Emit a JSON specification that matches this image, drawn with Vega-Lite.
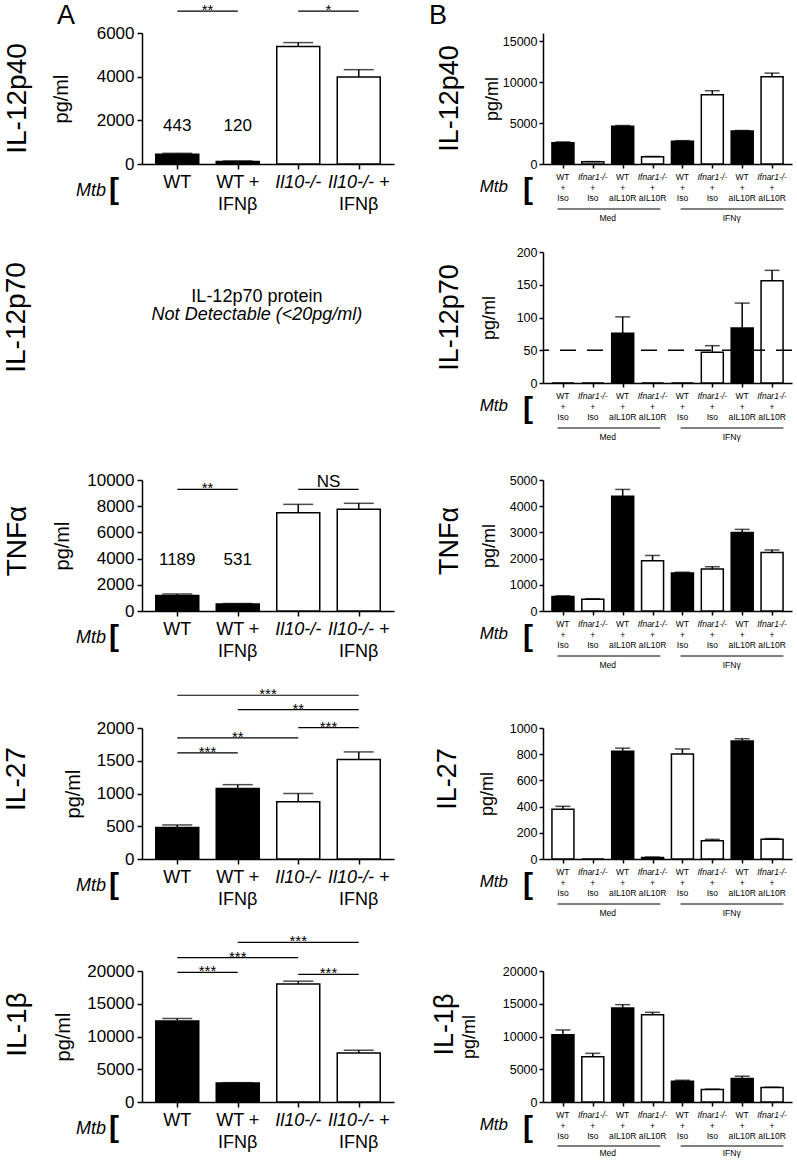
{
"$schema": "https://vega.github.io/schema/vega-lite/v6.json",
"background": "white",
"padding": {"left": 3, "top": 2, "right": 0, "bottom": 0},
"columns": 2,
"spacing": {"row": 88, "column": 149},
"bounds": "flush",
"align": "each",
"config": {
  "font": "Liberation Sans",
  "view": {"stroke": null},
  "axis": {"grid": false, "domainColor": "black", "domainWidth": 1.5, "tickColor": "black", "tickWidth": 1.5, "labelColor": "black", "titleColor": "black", "titleFontWeight": "normal", "labelOverlap": false},
  "title": {"orient": "left", "anchor": "middle", "frame": "group", "fontWeight": "normal", "color": "black"},
  "text": {"color": "black", "baseline": "alphabetic", "align": "center"}
},
"datasets": {
  "bars": [
    {"panel": "Ap40", "x": 1, "value": 443, "hi": 490, "fill": "solid"},
    {"panel": "Ap40", "x": 2, "value": 120, "hi": 140, "fill": "solid"},
    {"panel": "Ap40", "x": 3, "value": 5380, "hi": 5560, "fill": "open"},
    {"panel": "Ap40", "x": 4, "value": 3990, "hi": 4320, "fill": "open"},
    {"panel": "Atnf", "x": 1, "value": 1189, "hi": 1300, "fill": "solid"},
    {"panel": "Atnf", "x": 2, "value": 531, "hi": 570, "fill": "solid"},
    {"panel": "Atnf", "x": 3, "value": 7500, "hi": 8140, "fill": "open"},
    {"panel": "Atnf", "x": 4, "value": 7760, "hi": 8220, "fill": "open"},
    {"panel": "Ail27", "x": 1, "value": 480, "hi": 520, "fill": "solid"},
    {"panel": "Ail27", "x": 2, "value": 1075, "hi": 1135, "fill": "solid"},
    {"panel": "Ail27", "x": 3, "value": 875, "hi": 1000, "fill": "open"},
    {"panel": "Ail27", "x": 4, "value": 1520, "hi": 1635, "fill": "open"},
    {"panel": "Ail1b", "x": 1, "value": 12350, "hi": 12750, "fill": "solid"},
    {"panel": "Ail1b", "x": 2, "value": 2900, "hi": 2950, "fill": "solid"},
    {"panel": "Ail1b", "x": 3, "value": 18000, "hi": 18450, "fill": "open"},
    {"panel": "Ail1b", "x": 4, "value": 7500, "hi": 7900, "fill": "open"},
    {"panel": "Bp40", "x": 1, "value": 2600, "hi": 2700, "fill": "solid"},
    {"panel": "Bp40", "x": 2, "value": 270, "hi": 300, "fill": "open"},
    {"panel": "Bp40", "x": 3, "value": 4620, "hi": 4700, "fill": "solid"},
    {"panel": "Bp40", "x": 4, "value": 890, "hi": 920, "fill": "open"},
    {"panel": "Bp40", "x": 5, "value": 2780, "hi": 2850, "fill": "solid"},
    {"panel": "Bp40", "x": 6, "value": 8460, "hi": 8950, "fill": "open"},
    {"panel": "Bp40", "x": 7, "value": 4040, "hi": 4090, "fill": "solid"},
    {"panel": "Bp40", "x": 8, "value": 10650, "hi": 11100, "fill": "open"},
    {"panel": "Bp70", "x": 1, "value": 0, "hi": 0, "fill": "solid"},
    {"panel": "Bp70", "x": 2, "value": 0, "hi": 0, "fill": "open"},
    {"panel": "Bp70", "x": 3, "value": 76, "hi": 101, "fill": "solid"},
    {"panel": "Bp70", "x": 4, "value": 0, "hi": 0, "fill": "open"},
    {"panel": "Bp70", "x": 5, "value": 0, "hi": 0, "fill": "solid"},
    {"panel": "Bp70", "x": 6, "value": 47, "hi": 57, "fill": "open"},
    {"panel": "Bp70", "x": 7, "value": 84, "hi": 122, "fill": "solid"},
    {"panel": "Bp70", "x": 8, "value": 156, "hi": 172, "fill": "open"},
    {"panel": "Btnf", "x": 1, "value": 550, "hi": 580, "fill": "solid"},
    {"panel": "Btnf", "x": 2, "value": 450, "hi": 470, "fill": "open"},
    {"panel": "Btnf", "x": 3, "value": 4380, "hi": 4640, "fill": "solid"},
    {"panel": "Btnf", "x": 4, "value": 1920, "hi": 2120, "fill": "open"},
    {"panel": "Btnf", "x": 5, "value": 1450, "hi": 1480, "fill": "solid"},
    {"panel": "Btnf", "x": 6, "value": 1600, "hi": 1690, "fill": "open"},
    {"panel": "Btnf", "x": 7, "value": 3000, "hi": 3115, "fill": "solid"},
    {"panel": "Btnf", "x": 8, "value": 2230, "hi": 2330, "fill": "open"},
    {"panel": "Bil27", "x": 1, "value": 380, "hi": 402, "fill": "open"},
    {"panel": "Bil27", "x": 2, "value": 0, "hi": 0, "fill": "open"},
    {"panel": "Bil27", "x": 3, "value": 823, "hi": 846, "fill": "solid"},
    {"panel": "Bil27", "x": 4, "value": 12, "hi": 15, "fill": "open"},
    {"panel": "Bil27", "x": 5, "value": 802, "hi": 840, "fill": "open"},
    {"panel": "Bil27", "x": 6, "value": 140, "hi": 150, "fill": "open"},
    {"panel": "Bil27", "x": 7, "value": 900, "hi": 918, "fill": "solid"},
    {"panel": "Bil27", "x": 8, "value": 150, "hi": 156, "fill": "open"},
    {"panel": "Bil1b", "x": 1, "value": 10250, "hi": 11000, "fill": "solid"},
    {"panel": "Bil1b", "x": 2, "value": 6920, "hi": 7430, "fill": "open"},
    {"panel": "Bil1b", "x": 3, "value": 14350, "hi": 14860, "fill": "solid"},
    {"panel": "Bil1b", "x": 4, "value": 13320, "hi": 13690, "fill": "open"},
    {"panel": "Bil1b", "x": 5, "value": 3170, "hi": 3320, "fill": "solid"},
    {"panel": "Bil1b", "x": 6, "value": 1890, "hi": 1970, "fill": "open"},
    {"panel": "Bil1b", "x": 7, "value": 3590, "hi": 3940, "fill": "solid"},
    {"panel": "Bil1b", "x": 8, "value": 2200, "hi": 2260, "fill": "open"}
  ],
  "sig": [
    {"panel": "Ap40", "x1": 1, "x2": 2, "xm": 1.5, "y": 7000, "label": "**"},
    {"panel": "Ap40", "x1": 3, "x2": 4, "xm": 3.5, "y": 7000, "label": "*"},
    {"panel": "Atnf", "x1": 1, "x2": 2, "xm": 1.5, "y": 9290, "label": "**"},
    {"panel": "Atnf", "x1": 3, "x2": 4, "xm": 3.5, "y": 9290, "label": "NS"},
    {"panel": "Ail27", "x1": 1, "x2": 4, "xm": 2.5, "y": 2500, "label": "***"},
    {"panel": "Ail27", "x1": 2, "x2": 4, "xm": 3, "y": 2280, "label": "**"},
    {"panel": "Ail27", "x1": 3, "x2": 4, "xm": 3.5, "y": 2005, "label": "***"},
    {"panel": "Ail27", "x1": 1, "x2": 3, "xm": 2, "y": 1850, "label": "**"},
    {"panel": "Ail27", "x1": 1, "x2": 2, "xm": 1.5, "y": 1620, "label": "***"},
    {"panel": "Ail1b", "x1": 2, "x2": 4, "xm": 3, "y": 24380, "label": "***"},
    {"panel": "Ail1b", "x1": 1, "x2": 3, "xm": 2, "y": 22030, "label": "***"},
    {"panel": "Ail1b", "x1": 1, "x2": 2, "xm": 1.5, "y": 19800, "label": "***"},
    {"panel": "Ail1b", "x1": 3, "x2": 4, "xm": 3.5, "y": 19500, "label": "***"}
  ],
  "vals": [
    {"panel": "Ap40", "x": 1, "y": 1500, "label": "443"},
    {"panel": "Ap40", "x": 2, "y": 1500, "label": "120"},
    {"panel": "Atnf", "x": 1, "y": 3500, "label": "1189"},
    {"panel": "Atnf", "x": 2, "y": 3500, "label": "531"}
  ],
  "lx": [
    {"x": 1, "l1": "WT", "l2": "", "geno": "WT"},
    {"x": 2, "l1": "WT +", "l2": "IFNβ", "geno": "WT"},
    {"x": 3, "l1": "Il10-/-", "l2": "", "geno": "Il10-/-"},
    {"x": 4, "l1": "Il10-/- +", "l2": "IFNβ", "geno": "Il10-/-"}
  ],
  "rx": [
    {"x": 1, "l1": "WT", "l3": "Iso", "geno": "WT"},
    {"x": 2, "l1": "Ifnar1-/-", "l3": "Iso", "geno": "Ifnar1-/-"},
    {"x": 3, "l1": "WT", "l3": "aIL10R", "geno": "WT"},
    {"x": 4, "l1": "Ifnar1-/-", "l3": "aIL10R", "geno": "Ifnar1-/-"},
    {"x": 5, "l1": "WT", "l3": "Iso", "geno": "WT"},
    {"x": 6, "l1": "Ifnar1-/-", "l3": "Iso", "geno": "Ifnar1-/-"},
    {"x": 7, "l1": "WT", "l3": "aIL10R", "geno": "WT"},
    {"x": 8, "l1": "Ifnar1-/-", "l3": "aIL10R", "geno": "Ifnar1-/-"}
  ],
  "grp": [
    {"x1": 0.82, "x2": 4.26, "xm": 2.5, "label": "Med"},
    {"x1": 4.94, "x2": 8.38, "xm": 6.65, "label": "IFNγ"}
  ]
},
"concat": [
  {
    "width": 252, "height": 131,
    "title": {"text": "IL-12p40", "fontSize": 28, "offset": 19},
    "layer": [
      {"data": {"name": "bars"}, "transform": [{"filter": "datum.panel === 'Ap40'"}],
       "mark": {"type": "bar", "width": 43, "stroke": "black", "strokeWidth": 1.5},
       "encoding": {
         "x": {"field": "x", "type": "quantitative", "scale": {"domain": [0.5, 4.5], "nice": false, "zero": false}, "axis": {"values": [1, 2, 3, 4], "tickCount": 20, "labels": false, "tickSize": 5, "title": null}},
         "y": {"field": "value", "type": "quantitative", "scale": {"domain": [0, 6000]}, "axis": {"values": [0, 2000, 4000, 6000], "tickCount": 20, "labelOverlap": false, "format": "d", "title": "pg/ml", "titleFontSize": 20, "labelFontSize": 17, "tickSize": 5, "labelPadding": 3, "titlePadding": 25}},
         "fill": {"field": "fill", "type": "nominal", "scale": {"domain": ["solid", "open"], "range": ["black", "white"]}, "legend": null}
       }},
      {"data": {"name": "bars"}, "transform": [{"filter": "datum.panel === 'Ap40'"}],
       "mark": {"type": "rule", "color": "black", "strokeWidth": 1.5},
       "encoding": {"x": {"field": "x", "type": "quantitative"}, "y": {"field": "value", "type": "quantitative"}, "y2": {"field": "hi"}}},
      {"data": {"name": "bars"}, "transform": [{"filter": "datum.panel === 'Ap40'"}],
       "mark": {"type": "tick", "orient": "horizontal", "size": 30, "thickness": 1.5, "color": "black"},
       "encoding": {"x": {"field": "x", "type": "quantitative"}, "y": {"field": "hi", "type": "quantitative"}}},
      {"data": {"name": "sig"}, "transform": [{"filter": "datum.panel === 'Ap40'"}],
       "mark": {"type": "rule", "color": "black", "strokeWidth": 1.2},
       "encoding": {"x": {"field": "x1", "type": "quantitative"}, "x2": {"field": "x2"}, "y": {"field": "y", "type": "quantitative"}}},
      {"data": {"name": "sig"}, "transform": [{"filter": "datum.panel === 'Ap40' && datum.label !== 'NS'"}],
       "mark": {"type": "text", "fontSize": 15, "dy": 4},
       "encoding": {"x": {"field": "xm", "type": "quantitative"}, "y": {"field": "y", "type": "quantitative"}, "text": {"field": "label"}}},
      {"data": {"name": "vals"}, "transform": [{"filter": "datum.panel === 'Ap40'"}],
       "mark": {"type": "text", "fontSize": 17},
       "encoding": {"x": {"field": "x", "type": "quantitative"}, "y": {"field": "y", "type": "quantitative"}, "text": {"field": "label"}}},
      {"data": {"name": "lx"}, "transform": [{"filter": "datum.geno === 'WT'"}],
       "mark": {"type": "text", "fontSize": 18, "dy": 24},
       "encoding": {"x": {"field": "x", "type": "quantitative"}, "y": {"datum": 0}, "text": {"field": "l1"}}},
      {"data": {"name": "lx"}, "transform": [{"filter": "datum.geno !== 'WT'"}],
       "mark": {"type": "text", "fontSize": 18, "fontStyle": "italic", "dy": 24},
       "encoding": {"x": {"field": "x", "type": "quantitative"}, "y": {"datum": 0}, "text": {"field": "l1"}}},
      {"data": {"name": "lx"},
       "mark": {"type": "text", "fontSize": 18, "dy": 46},
       "encoding": {"x": {"field": "x", "type": "quantitative"}, "y": {"datum": 0}, "text": {"field": "l2"}}},
      {"data": {"values": [{"t": "Mtb"}]},
       "mark": {"type": "text", "fontSize": 18, "fontStyle": "italic", "align": "right", "dx": -41, "dy": 32},
       "encoding": {"x": {"datum": 0.5}, "y": {"datum": 0}, "text": {"field": "t"}}},
      {"data": {"values": [{"t": "["}]},
       "mark": {"type": "text", "fontSize": 30, "fontWeight": "bold", "dx": -33, "dy": 35},
       "encoding": {"x": {"datum": 0.5}, "y": {"datum": 0}, "text": {"field": "t"}}},
      {"data": {"values": [{"t": "A"}]},
       "mark": {"type": "text", "fontSize": 27, "align": "left", "dx": -90, "dy": -9},
       "encoding": {"x": {"datum": 0.5}, "y": {"datum": 6000}, "text": {"field": "t"}}},
      {"data": {"values": [{"t": "B"}]},
       "mark": {"type": "text", "fontSize": 27, "align": "left", "dx": 40, "dy": -9},
       "encoding": {"x": {"datum": 4.5}, "y": {"datum": 6000}, "text": {"field": "t"}}}
    ]
  },
  {
    "width": 249, "height": 131,
    "title": {"text": "IL-12p40", "fontSize": 27, "offset": 16},
    "layer": [
      {"data": {"name": "bars"}, "transform": [{"filter": "datum.panel === 'Bp40'"}],
       "mark": {"type": "bar", "width": 22, "stroke": "black", "strokeWidth": 1.5},
       "encoding": {
         "x": {"field": "x", "type": "quantitative", "scale": {"domain": [0.5, 8.5], "nice": false, "zero": false}, "axis": {"values": [1, 2, 3, 4, 5, 6, 7, 8], "tickCount": 20, "labels": false, "tickSize": 4, "title": null}},
         "y": {"field": "value", "type": "quantitative", "scale": {"domain": [0, 15000]}, "axis": {"values": [0, 5000, 10000, 15000], "tickCount": 20, "labelOverlap": false, "format": "d", "title": "pg/ml", "titleFontSize": 18, "labelFontSize": 12.5, "tickSize": 4, "labelPadding": 2, "titlePadding": 1}},
         "fill": {"field": "fill", "type": "nominal", "scale": {"domain": ["solid", "open"], "range": ["black", "white"]}, "legend": null}
       }},
      {"data": {"name": "bars"}, "transform": [{"filter": "datum.panel === 'Bp40'"}],
       "mark": {"type": "rule", "color": "black", "strokeWidth": 1.5},
       "encoding": {"x": {"field": "x", "type": "quantitative"}, "y": {"field": "value", "type": "quantitative"}, "y2": {"field": "hi"}}},
      {"data": {"name": "bars"}, "transform": [{"filter": "datum.panel === 'Bp40'"}],
       "mark": {"type": "tick", "orient": "horizontal", "size": 15, "thickness": 1.5, "color": "black"},
       "encoding": {"x": {"field": "x", "type": "quantitative"}, "y": {"field": "hi", "type": "quantitative"}}},
      {"data": {"name": "rx"}, "transform": [{"filter": "datum.geno === 'WT'"}],
       "mark": {"type": "text", "fontSize": 8.5, "dy": 16},
       "encoding": {"x": {"field": "x", "type": "quantitative"}, "y": {"datum": 0}, "text": {"field": "l1"}}},
      {"data": {"name": "rx"}, "transform": [{"filter": "datum.geno !== 'WT'"}],
       "mark": {"type": "text", "fontSize": 8.5, "fontStyle": "italic", "dy": 16},
       "encoding": {"x": {"field": "x", "type": "quantitative"}, "y": {"datum": 0}, "text": {"field": "l1"}}},
      {"data": {"name": "rx"},
       "mark": {"type": "text", "fontSize": 8.5, "dy": 27},
       "encoding": {"x": {"field": "x", "type": "quantitative"}, "y": {"datum": 0}, "text": {"value": "+"}}},
      {"data": {"name": "rx"},
       "mark": {"type": "text", "fontSize": 8.5, "dy": 37},
       "encoding": {"x": {"field": "x", "type": "quantitative"}, "y": {"datum": 0}, "text": {"field": "l3"}}},
      {"data": {"name": "grp"},
       "mark": {"type": "rule", "color": "black", "strokeWidth": 1, "yOffset": 45},
       "encoding": {"x": {"field": "x1", "type": "quantitative"}, "x2": {"field": "x2"}, "y": {"datum": 0}}},
      {"data": {"name": "grp"},
       "mark": {"type": "text", "fontSize": 8.5, "dy": 57},
       "encoding": {"x": {"field": "xm", "type": "quantitative"}, "y": {"datum": 0}, "text": {"field": "label"}}},
      {"data": {"values": [{"t": "Mtb"}]},
       "mark": {"type": "text", "fontSize": 17, "fontStyle": "italic", "align": "right", "dx": -40, "dy": 28},
       "encoding": {"x": {"datum": 0.5}, "y": {"datum": 0}, "text": {"field": "t"}}},
      {"data": {"values": [{"t": "["}]},
       "mark": {"type": "text", "fontSize": 30, "fontWeight": "bold", "dx": -20, "dy": 35},
       "encoding": {"x": {"datum": 0.5}, "y": {"datum": 0}, "text": {"field": "t"}}}
    ]
  },
  {
    "width": 252, "height": 131,
    "title": {"text": "IL-12p70", "fontSize": 28, "offset": 111},
    "data": {"values": [{"t1": "IL-12p70 protein", "t2": "Not Detectable (<20pg/ml)"}]},
    "layer": [
      {"mark": {"type": "text", "fontSize": 18},
       "encoding": {"x": {"datum": 0.456, "type": "quantitative", "scale": {"domain": [0, 1]}, "axis": null}, "y": {"datum": 0.618, "type": "quantitative", "scale": {"domain": [0, 1]}, "axis": null}, "text": {"field": "t1"}}},
      {"mark": {"type": "text", "fontSize": 18, "fontStyle": "italic"},
       "encoding": {"x": {"datum": 0.456, "type": "quantitative", "axis": null}, "y": {"datum": 0.481, "type": "quantitative", "axis": null}, "text": {"field": "t2"}}}
    ]
  },
  {
    "width": 249, "height": 131,
    "title": {"text": "IL-12p70", "fontSize": 27, "offset": 16},
    "layer": [
      {"data": {"name": "bars"}, "transform": [{"filter": "datum.panel === 'Bp70'"}],
       "mark": {"type": "bar", "width": 22, "stroke": "black", "strokeWidth": 1.5},
       "encoding": {
         "x": {"field": "x", "type": "quantitative", "scale": {"domain": [0.5, 8.5], "nice": false, "zero": false}, "axis": {"values": [1, 2, 3, 4, 5, 6, 7, 8], "tickCount": 20, "labels": false, "tickSize": 4, "title": null}},
         "y": {"field": "value", "type": "quantitative", "scale": {"domain": [0, 200]}, "axis": {"values": [0, 50, 100, 150, 200], "tickCount": 20, "labelOverlap": false, "format": "d", "title": "pg/ml", "titleFontSize": 18, "labelFontSize": 12.5, "tickSize": 4, "labelPadding": 2, "titlePadding": 18}},
         "fill": {"field": "fill", "type": "nominal", "scale": {"domain": ["solid", "open"], "range": ["black", "white"]}, "legend": null}
       }},
      {"data": {"name": "bars"}, "transform": [{"filter": "datum.panel === 'Bp70' && datum.value > 0"}],
       "mark": {"type": "rule", "color": "black", "strokeWidth": 1.5},
       "encoding": {"x": {"field": "x", "type": "quantitative"}, "y": {"field": "value", "type": "quantitative"}, "y2": {"field": "hi"}}},
      {"data": {"name": "bars"}, "transform": [{"filter": "datum.panel === 'Bp70' && datum.value > 0"}],
       "mark": {"type": "tick", "orient": "horizontal", "size": 15, "thickness": 1.5, "color": "black"},
       "encoding": {"x": {"field": "x", "type": "quantitative"}, "y": {"field": "hi", "type": "quantitative"}}},
      {"data": {"values": [{"lod": 50}]},
       "mark": {"type": "rule", "color": "black", "strokeWidth": 1.5, "strokeDash": [16, 11]},
       "encoding": {"y": {"field": "lod", "type": "quantitative"}}},
      {"data": {"name": "rx"}, "transform": [{"filter": "datum.geno === 'WT'"}],
       "mark": {"type": "text", "fontSize": 8.5, "dy": 16},
       "encoding": {"x": {"field": "x", "type": "quantitative"}, "y": {"datum": 0}, "text": {"field": "l1"}}},
      {"data": {"name": "rx"}, "transform": [{"filter": "datum.geno !== 'WT'"}],
       "mark": {"type": "text", "fontSize": 8.5, "fontStyle": "italic", "dy": 16},
       "encoding": {"x": {"field": "x", "type": "quantitative"}, "y": {"datum": 0}, "text": {"field": "l1"}}},
      {"data": {"name": "rx"},
       "mark": {"type": "text", "fontSize": 8.5, "dy": 27},
       "encoding": {"x": {"field": "x", "type": "quantitative"}, "y": {"datum": 0}, "text": {"value": "+"}}},
      {"data": {"name": "rx"},
       "mark": {"type": "text", "fontSize": 8.5, "dy": 37},
       "encoding": {"x": {"field": "x", "type": "quantitative"}, "y": {"datum": 0}, "text": {"field": "l3"}}},
      {"data": {"name": "grp"},
       "mark": {"type": "rule", "color": "black", "strokeWidth": 1, "yOffset": 45},
       "encoding": {"x": {"field": "x1", "type": "quantitative"}, "x2": {"field": "x2"}, "y": {"datum": 0}}},
      {"data": {"name": "grp"},
       "mark": {"type": "text", "fontSize": 8.5, "dy": 57},
       "encoding": {"x": {"field": "xm", "type": "quantitative"}, "y": {"datum": 0}, "text": {"field": "label"}}},
      {"data": {"values": [{"t": "Mtb"}]},
       "mark": {"type": "text", "fontSize": 17, "fontStyle": "italic", "align": "right", "dx": -40, "dy": 28},
       "encoding": {"x": {"datum": 0.5}, "y": {"datum": 0}, "text": {"field": "t"}}},
      {"data": {"values": [{"t": "["}]},
       "mark": {"type": "text", "fontSize": 30, "fontWeight": "bold", "dx": -20, "dy": 35},
       "encoding": {"x": {"datum": 0.5}, "y": {"datum": 0}, "text": {"field": "t"}}}
    ]
  },
  {
    "width": 252, "height": 140,
    "title": {"text": "TNFα", "fontSize": 28, "offset": 21},
    "layer": [
      {"data": {"name": "bars"}, "transform": [{"filter": "datum.panel === 'Atnf'"}],
       "mark": {"type": "bar", "width": 43, "stroke": "black", "strokeWidth": 1.5},
       "encoding": {
         "x": {"field": "x", "type": "quantitative", "scale": {"domain": [0.5, 4.5], "nice": false, "zero": false}, "axis": {"values": [1, 2, 3, 4], "tickCount": 20, "labels": false, "tickSize": 5, "title": null}},
         "y": {"field": "value", "type": "quantitative", "scale": {"domain": [0, 10000], "range": [140, 9]}, "axis": {"values": [0, 2000, 4000, 6000, 8000, 10000], "tickCount": 20, "labelOverlap": false, "format": "d", "title": "pg/ml", "titleFontSize": 20, "labelFontSize": 17, "tickSize": 5, "labelPadding": 3, "titlePadding": 14}},
         "fill": {"field": "fill", "type": "nominal", "scale": {"domain": ["solid", "open"], "range": ["black", "white"]}, "legend": null}
       }},
      {"data": {"name": "bars"}, "transform": [{"filter": "datum.panel === 'Atnf'"}],
       "mark": {"type": "rule", "color": "black", "strokeWidth": 1.5},
       "encoding": {"x": {"field": "x", "type": "quantitative"}, "y": {"field": "value", "type": "quantitative"}, "y2": {"field": "hi"}}},
      {"data": {"name": "bars"}, "transform": [{"filter": "datum.panel === 'Atnf'"}],
       "mark": {"type": "tick", "orient": "horizontal", "size": 30, "thickness": 1.5, "color": "black"},
       "encoding": {"x": {"field": "x", "type": "quantitative"}, "y": {"field": "hi", "type": "quantitative"}}},
      {"data": {"name": "sig"}, "transform": [{"filter": "datum.panel === 'Atnf'"}],
       "mark": {"type": "rule", "color": "black", "strokeWidth": 1.2},
       "encoding": {"x": {"field": "x1", "type": "quantitative"}, "x2": {"field": "x2"}, "y": {"field": "y", "type": "quantitative"}}},
      {"data": {"name": "sig"}, "transform": [{"filter": "datum.panel === 'Atnf' && datum.label !== 'NS'"}],
       "mark": {"type": "text", "fontSize": 15, "dy": 4},
       "encoding": {"x": {"field": "xm", "type": "quantitative"}, "y": {"field": "y", "type": "quantitative"}, "text": {"field": "label"}}},
      {"data": {"name": "sig"}, "transform": [{"filter": "datum.panel === 'Atnf' && datum.label === 'NS'"}],
       "mark": {"type": "text", "fontSize": 17, "dy": -2},
       "encoding": {"x": {"field": "xm", "type": "quantitative"}, "y": {"field": "y", "type": "quantitative"}, "text": {"field": "label"}}},
      {"data": {"name": "vals"}, "transform": [{"filter": "datum.panel === 'Atnf'"}],
       "mark": {"type": "text", "fontSize": 17},
       "encoding": {"x": {"field": "x", "type": "quantitative"}, "y": {"field": "y", "type": "quantitative"}, "text": {"field": "label"}}},
      {"data": {"name": "lx"}, "transform": [{"filter": "datum.geno === 'WT'"}],
       "mark": {"type": "text", "fontSize": 18, "dy": 24},
       "encoding": {"x": {"field": "x", "type": "quantitative"}, "y": {"datum": 0}, "text": {"field": "l1"}}},
      {"data": {"name": "lx"}, "transform": [{"filter": "datum.geno !== 'WT'"}],
       "mark": {"type": "text", "fontSize": 18, "fontStyle": "italic", "dy": 24},
       "encoding": {"x": {"field": "x", "type": "quantitative"}, "y": {"datum": 0}, "text": {"field": "l1"}}},
      {"data": {"name": "lx"},
       "mark": {"type": "text", "fontSize": 18, "dy": 46},
       "encoding": {"x": {"field": "x", "type": "quantitative"}, "y": {"datum": 0}, "text": {"field": "l2"}}},
      {"data": {"values": [{"t": "Mtb"}]},
       "mark": {"type": "text", "fontSize": 18, "fontStyle": "italic", "align": "right", "dx": -41, "dy": 32},
       "encoding": {"x": {"datum": 0.5}, "y": {"datum": 0}, "text": {"field": "t"}}},
      {"data": {"values": [{"t": "["}]},
       "mark": {"type": "text", "fontSize": 30, "fontWeight": "bold", "dx": -33, "dy": 35},
       "encoding": {"x": {"datum": 0.5}, "y": {"datum": 0}, "text": {"field": "t"}}}
    ]
  },
  {
    "width": 249, "height": 140,
    "title": {"text": "TNFα", "fontSize": 27, "offset": 16},
    "layer": [
      {"data": {"name": "bars"}, "transform": [{"filter": "datum.panel === 'Btnf'"}],
       "mark": {"type": "bar", "width": 22, "stroke": "black", "strokeWidth": 1.5},
       "encoding": {
         "x": {"field": "x", "type": "quantitative", "scale": {"domain": [0.5, 8.5], "nice": false, "zero": false}, "axis": {"values": [1, 2, 3, 4, 5, 6, 7, 8], "tickCount": 20, "labels": false, "tickSize": 4, "title": null}},
         "y": {"field": "value", "type": "quantitative", "scale": {"domain": [0, 5000], "range": [140, 9]}, "axis": {"values": [0, 1000, 2000, 3000, 4000, 5000], "tickCount": 20, "labelOverlap": false, "format": "d", "title": "pg/ml", "titleFontSize": 18, "labelFontSize": 12.5, "tickSize": 4, "labelPadding": 2, "titlePadding": 11}},
         "fill": {"field": "fill", "type": "nominal", "scale": {"domain": ["solid", "open"], "range": ["black", "white"]}, "legend": null}
       }},
      {"data": {"name": "bars"}, "transform": [{"filter": "datum.panel === 'Btnf'"}],
       "mark": {"type": "rule", "color": "black", "strokeWidth": 1.5},
       "encoding": {"x": {"field": "x", "type": "quantitative"}, "y": {"field": "value", "type": "quantitative"}, "y2": {"field": "hi"}}},
      {"data": {"name": "bars"}, "transform": [{"filter": "datum.panel === 'Btnf'"}],
       "mark": {"type": "tick", "orient": "horizontal", "size": 15, "thickness": 1.5, "color": "black"},
       "encoding": {"x": {"field": "x", "type": "quantitative"}, "y": {"field": "hi", "type": "quantitative"}}},
      {"data": {"name": "rx"}, "transform": [{"filter": "datum.geno === 'WT'"}],
       "mark": {"type": "text", "fontSize": 8.5, "dy": 16},
       "encoding": {"x": {"field": "x", "type": "quantitative"}, "y": {"datum": 0}, "text": {"field": "l1"}}},
      {"data": {"name": "rx"}, "transform": [{"filter": "datum.geno !== 'WT'"}],
       "mark": {"type": "text", "fontSize": 8.5, "fontStyle": "italic", "dy": 16},
       "encoding": {"x": {"field": "x", "type": "quantitative"}, "y": {"datum": 0}, "text": {"field": "l1"}}},
      {"data": {"name": "rx"},
       "mark": {"type": "text", "fontSize": 8.5, "dy": 27},
       "encoding": {"x": {"field": "x", "type": "quantitative"}, "y": {"datum": 0}, "text": {"value": "+"}}},
      {"data": {"name": "rx"},
       "mark": {"type": "text", "fontSize": 8.5, "dy": 37},
       "encoding": {"x": {"field": "x", "type": "quantitative"}, "y": {"datum": 0}, "text": {"field": "l3"}}},
      {"data": {"name": "grp"},
       "mark": {"type": "rule", "color": "black", "strokeWidth": 1, "yOffset": 45},
       "encoding": {"x": {"field": "x1", "type": "quantitative"}, "x2": {"field": "x2"}, "y": {"datum": 0}}},
      {"data": {"name": "grp"},
       "mark": {"type": "text", "fontSize": 8.5, "dy": 57},
       "encoding": {"x": {"field": "xm", "type": "quantitative"}, "y": {"datum": 0}, "text": {"field": "label"}}},
      {"data": {"values": [{"t": "Mtb"}]},
       "mark": {"type": "text", "fontSize": 17, "fontStyle": "italic", "align": "right", "dx": -40, "dy": 28},
       "encoding": {"x": {"datum": 0.5}, "y": {"datum": 0}, "text": {"field": "t"}}},
      {"data": {"values": [{"t": "["}]},
       "mark": {"type": "text", "fontSize": 30, "fontWeight": "bold", "dx": -20, "dy": 35},
       "encoding": {"x": {"datum": 0.5}, "y": {"datum": 0}, "text": {"field": "t"}}}
    ]
  },
  {
    "width": 252, "height": 160,
    "title": {"text": "IL-27", "fontSize": 28, "offset": 32},
    "layer": [
      {"data": {"name": "bars"}, "transform": [{"filter": "datum.panel === 'Ail27'"}],
       "mark": {"type": "bar", "width": 43, "stroke": "black", "strokeWidth": 1.5},
       "encoding": {
         "x": {"field": "x", "type": "quantitative", "scale": {"domain": [0.5, 4.5], "nice": false, "zero": false}, "axis": {"values": [1, 2, 3, 4], "tickCount": 20, "labels": false, "tickSize": 5, "title": null}},
         "y": {"field": "value", "type": "quantitative", "scale": {"domain": [0, 2000], "range": [160, 29]}, "axis": {"values": [0, 500, 1000, 1500, 2000], "tickCount": 20, "labelOverlap": false, "format": "d", "title": "pg/ml", "titleFontSize": 20, "labelFontSize": 17, "tickSize": 5, "labelPadding": 3, "titlePadding": 13}},
         "fill": {"field": "fill", "type": "nominal", "scale": {"domain": ["solid", "open"], "range": ["black", "white"]}, "legend": null}
       }},
      {"data": {"name": "bars"}, "transform": [{"filter": "datum.panel === 'Ail27'"}],
       "mark": {"type": "rule", "color": "black", "strokeWidth": 1.5},
       "encoding": {"x": {"field": "x", "type": "quantitative"}, "y": {"field": "value", "type": "quantitative"}, "y2": {"field": "hi"}}},
      {"data": {"name": "bars"}, "transform": [{"filter": "datum.panel === 'Ail27'"}],
       "mark": {"type": "tick", "orient": "horizontal", "size": 30, "thickness": 1.5, "color": "black"},
       "encoding": {"x": {"field": "x", "type": "quantitative"}, "y": {"field": "hi", "type": "quantitative"}}},
      {"data": {"name": "sig"}, "transform": [{"filter": "datum.panel === 'Ail27'"}],
       "mark": {"type": "rule", "color": "black", "strokeWidth": 1.2},
       "encoding": {"x": {"field": "x1", "type": "quantitative"}, "x2": {"field": "x2"}, "y": {"field": "y", "type": "quantitative"}}},
      {"data": {"name": "sig"}, "transform": [{"filter": "datum.panel === 'Ail27'"}],
       "mark": {"type": "text", "fontSize": 15, "dy": 4},
       "encoding": {"x": {"field": "xm", "type": "quantitative"}, "y": {"field": "y", "type": "quantitative"}, "text": {"field": "label"}}},
      {"data": {"name": "lx"}, "transform": [{"filter": "datum.geno === 'WT'"}],
       "mark": {"type": "text", "fontSize": 18, "dy": 24},
       "encoding": {"x": {"field": "x", "type": "quantitative"}, "y": {"datum": 0}, "text": {"field": "l1"}}},
      {"data": {"name": "lx"}, "transform": [{"filter": "datum.geno !== 'WT'"}],
       "mark": {"type": "text", "fontSize": 18, "fontStyle": "italic", "dy": 24},
       "encoding": {"x": {"field": "x", "type": "quantitative"}, "y": {"datum": 0}, "text": {"field": "l1"}}},
      {"data": {"name": "lx"},
       "mark": {"type": "text", "fontSize": 18, "dy": 46},
       "encoding": {"x": {"field": "x", "type": "quantitative"}, "y": {"datum": 0}, "text": {"field": "l2"}}},
      {"data": {"values": [{"t": "Mtb"}]},
       "mark": {"type": "text", "fontSize": 18, "fontStyle": "italic", "align": "right", "dx": -41, "dy": 32},
       "encoding": {"x": {"datum": 0.5}, "y": {"datum": 0}, "text": {"field": "t"}}},
      {"data": {"values": [{"t": "["}]},
       "mark": {"type": "text", "fontSize": 30, "fontWeight": "bold", "dx": -33, "dy": 35},
       "encoding": {"x": {"datum": 0.5}, "y": {"datum": 0}, "text": {"field": "t"}}}
    ]
  },
  {
    "width": 249, "height": 160,
    "title": {"text": "IL-27", "fontSize": 27, "offset": 16},
    "layer": [
      {"data": {"name": "bars"}, "transform": [{"filter": "datum.panel === 'Bil27'"}],
       "mark": {"type": "bar", "width": 22, "stroke": "black", "strokeWidth": 1.5},
       "encoding": {
         "x": {"field": "x", "type": "quantitative", "scale": {"domain": [0.5, 8.5], "nice": false, "zero": false}, "axis": {"values": [1, 2, 3, 4, 5, 6, 7, 8], "tickCount": 20, "labels": false, "tickSize": 4, "title": null}},
         "y": {"field": "value", "type": "quantitative", "scale": {"domain": [0, 1000], "range": [160, 29]}, "axis": {"values": [0, 200, 400, 600, 800, 1000], "tickCount": 20, "labelOverlap": false, "format": "d", "title": "pg/ml", "titleFontSize": 18, "labelFontSize": 12.5, "tickSize": 4, "labelPadding": 2, "titlePadding": 13}},
         "fill": {"field": "fill", "type": "nominal", "scale": {"domain": ["solid", "open"], "range": ["black", "white"]}, "legend": null}
       }},
      {"data": {"name": "bars"}, "transform": [{"filter": "datum.panel === 'Bil27' && datum.value > 0"}],
       "mark": {"type": "rule", "color": "black", "strokeWidth": 1.5},
       "encoding": {"x": {"field": "x", "type": "quantitative"}, "y": {"field": "value", "type": "quantitative"}, "y2": {"field": "hi"}}},
      {"data": {"name": "bars"}, "transform": [{"filter": "datum.panel === 'Bil27' && datum.value > 0"}],
       "mark": {"type": "tick", "orient": "horizontal", "size": 15, "thickness": 1.5, "color": "black"},
       "encoding": {"x": {"field": "x", "type": "quantitative"}, "y": {"field": "hi", "type": "quantitative"}}},
      {"data": {"name": "rx"}, "transform": [{"filter": "datum.geno === 'WT'"}],
       "mark": {"type": "text", "fontSize": 8.5, "dy": 16},
       "encoding": {"x": {"field": "x", "type": "quantitative"}, "y": {"datum": 0}, "text": {"field": "l1"}}},
      {"data": {"name": "rx"}, "transform": [{"filter": "datum.geno !== 'WT'"}],
       "mark": {"type": "text", "fontSize": 8.5, "fontStyle": "italic", "dy": 16},
       "encoding": {"x": {"field": "x", "type": "quantitative"}, "y": {"datum": 0}, "text": {"field": "l1"}}},
      {"data": {"name": "rx"},
       "mark": {"type": "text", "fontSize": 8.5, "dy": 27},
       "encoding": {"x": {"field": "x", "type": "quantitative"}, "y": {"datum": 0}, "text": {"value": "+"}}},
      {"data": {"name": "rx"},
       "mark": {"type": "text", "fontSize": 8.5, "dy": 37},
       "encoding": {"x": {"field": "x", "type": "quantitative"}, "y": {"datum": 0}, "text": {"field": "l3"}}},
      {"data": {"name": "grp"},
       "mark": {"type": "rule", "color": "black", "strokeWidth": 1, "yOffset": 45},
       "encoding": {"x": {"field": "x1", "type": "quantitative"}, "x2": {"field": "x2"}, "y": {"datum": 0}}},
      {"data": {"name": "grp"},
       "mark": {"type": "text", "fontSize": 8.5, "dy": 57},
       "encoding": {"x": {"field": "xm", "type": "quantitative"}, "y": {"datum": 0}, "text": {"field": "label"}}},
      {"data": {"values": [{"t": "Mtb"}]},
       "mark": {"type": "text", "fontSize": 17, "fontStyle": "italic", "align": "right", "dx": -40, "dy": 28},
       "encoding": {"x": {"datum": 0.5}, "y": {"datum": 0}, "text": {"field": "t"}}},
      {"data": {"values": [{"t": "["}]},
       "mark": {"type": "text", "fontSize": 30, "fontWeight": "bold", "dx": -20, "dy": 35},
       "encoding": {"x": {"datum": 0.5}, "y": {"datum": 0}, "text": {"field": "t"}}}
    ]
  },
  {
    "width": 252, "height": 155,
    "title": {"text": "IL-1β", "fontSize": 28, "offset": 22},
    "layer": [
      {"data": {"name": "bars"}, "transform": [{"filter": "datum.panel === 'Ail1b'"}],
       "mark": {"type": "bar", "width": 43, "stroke": "black", "strokeWidth": 1.5},
       "encoding": {
         "x": {"field": "x", "type": "quantitative", "scale": {"domain": [0.5, 4.5], "nice": false, "zero": false}, "axis": {"values": [1, 2, 3, 4], "tickCount": 20, "labels": false, "tickSize": 5, "title": null}},
         "y": {"field": "value", "type": "quantitative", "scale": {"domain": [0, 20000], "range": [155, 24]}, "axis": {"values": [0, 5000, 10000, 15000, 20000], "tickCount": 20, "labelOverlap": false, "format": "d", "title": "pg/ml", "titleFontSize": 20, "labelFontSize": 17, "tickSize": 5, "labelPadding": 3, "titlePadding": 13}},
         "fill": {"field": "fill", "type": "nominal", "scale": {"domain": ["solid", "open"], "range": ["black", "white"]}, "legend": null}
       }},
      {"data": {"name": "bars"}, "transform": [{"filter": "datum.panel === 'Ail1b'"}],
       "mark": {"type": "rule", "color": "black", "strokeWidth": 1.5},
       "encoding": {"x": {"field": "x", "type": "quantitative"}, "y": {"field": "value", "type": "quantitative"}, "y2": {"field": "hi"}}},
      {"data": {"name": "bars"}, "transform": [{"filter": "datum.panel === 'Ail1b'"}],
       "mark": {"type": "tick", "orient": "horizontal", "size": 30, "thickness": 1.5, "color": "black"},
       "encoding": {"x": {"field": "x", "type": "quantitative"}, "y": {"field": "hi", "type": "quantitative"}}},
      {"data": {"name": "sig"}, "transform": [{"filter": "datum.panel === 'Ail1b'"}],
       "mark": {"type": "rule", "color": "black", "strokeWidth": 1.2},
       "encoding": {"x": {"field": "x1", "type": "quantitative"}, "x2": {"field": "x2"}, "y": {"field": "y", "type": "quantitative"}}},
      {"data": {"name": "sig"}, "transform": [{"filter": "datum.panel === 'Ail1b'"}],
       "mark": {"type": "text", "fontSize": 15, "dy": 4},
       "encoding": {"x": {"field": "xm", "type": "quantitative"}, "y": {"field": "y", "type": "quantitative"}, "text": {"field": "label"}}},
      {"data": {"name": "lx"}, "transform": [{"filter": "datum.geno === 'WT'"}],
       "mark": {"type": "text", "fontSize": 18, "dy": 24},
       "encoding": {"x": {"field": "x", "type": "quantitative"}, "y": {"datum": 0}, "text": {"field": "l1"}}},
      {"data": {"name": "lx"}, "transform": [{"filter": "datum.geno !== 'WT'"}],
       "mark": {"type": "text", "fontSize": 18, "fontStyle": "italic", "dy": 24},
       "encoding": {"x": {"field": "x", "type": "quantitative"}, "y": {"datum": 0}, "text": {"field": "l1"}}},
      {"data": {"name": "lx"},
       "mark": {"type": "text", "fontSize": 18, "dy": 46},
       "encoding": {"x": {"field": "x", "type": "quantitative"}, "y": {"datum": 0}, "text": {"field": "l2"}}},
      {"data": {"values": [{"t": "Mtb"}]},
       "mark": {"type": "text", "fontSize": 18, "fontStyle": "italic", "align": "right", "dx": -41, "dy": 32},
       "encoding": {"x": {"datum": 0.5}, "y": {"datum": 0}, "text": {"field": "t"}}},
      {"data": {"values": [{"t": "["}]},
       "mark": {"type": "text", "fontSize": 30, "fontWeight": "bold", "dx": -33, "dy": 35},
       "encoding": {"x": {"datum": 0.5}, "y": {"datum": 0}, "text": {"field": "t"}}}
    ]
  },
  {
    "width": 249, "height": 155,
    "title": {"text": "IL-1β", "fontSize": 27, "offset": 1},
    "layer": [
      {"data": {"name": "bars"}, "transform": [{"filter": "datum.panel === 'Bil1b'"}],
       "mark": {"type": "bar", "width": 22, "stroke": "black", "strokeWidth": 1.5},
       "encoding": {
         "x": {"field": "x", "type": "quantitative", "scale": {"domain": [0.5, 8.5], "nice": false, "zero": false}, "axis": {"values": [1, 2, 3, 4, 5, 6, 7, 8], "tickCount": 20, "labels": false, "tickSize": 4, "title": null}},
         "y": {"field": "value", "type": "quantitative", "scale": {"domain": [0, 20000], "range": [155, 24]}, "axis": {"values": [0, 5000, 10000, 15000, 20000], "tickCount": 20, "labelOverlap": false, "format": "d", "title": "pg/ml", "titleFontSize": 18, "labelFontSize": 12.5, "tickSize": 4, "labelPadding": 2, "titlePadding": 24}},
         "fill": {"field": "fill", "type": "nominal", "scale": {"domain": ["solid", "open"], "range": ["black", "white"]}, "legend": null}
       }},
      {"data": {"name": "bars"}, "transform": [{"filter": "datum.panel === 'Bil1b'"}],
       "mark": {"type": "rule", "color": "black", "strokeWidth": 1.5},
       "encoding": {"x": {"field": "x", "type": "quantitative"}, "y": {"field": "value", "type": "quantitative"}, "y2": {"field": "hi"}}},
      {"data": {"name": "bars"}, "transform": [{"filter": "datum.panel === 'Bil1b'"}],
       "mark": {"type": "tick", "orient": "horizontal", "size": 15, "thickness": 1.5, "color": "black"},
       "encoding": {"x": {"field": "x", "type": "quantitative"}, "y": {"field": "hi", "type": "quantitative"}}},
      {"data": {"name": "rx"}, "transform": [{"filter": "datum.geno === 'WT'"}],
       "mark": {"type": "text", "fontSize": 8.5, "dy": 16},
       "encoding": {"x": {"field": "x", "type": "quantitative"}, "y": {"datum": 0}, "text": {"field": "l1"}}},
      {"data": {"name": "rx"}, "transform": [{"filter": "datum.geno !== 'WT'"}],
       "mark": {"type": "text", "fontSize": 8.5, "fontStyle": "italic", "dy": 16},
       "encoding": {"x": {"field": "x", "type": "quantitative"}, "y": {"datum": 0}, "text": {"field": "l1"}}},
      {"data": {"name": "rx"},
       "mark": {"type": "text", "fontSize": 8.5, "dy": 27},
       "encoding": {"x": {"field": "x", "type": "quantitative"}, "y": {"datum": 0}, "text": {"value": "+"}}},
      {"data": {"name": "rx"},
       "mark": {"type": "text", "fontSize": 8.5, "dy": 37},
       "encoding": {"x": {"field": "x", "type": "quantitative"}, "y": {"datum": 0}, "text": {"field": "l3"}}},
      {"data": {"name": "grp"},
       "mark": {"type": "rule", "color": "black", "strokeWidth": 1, "yOffset": 44},
       "encoding": {"x": {"field": "x1", "type": "quantitative"}, "x2": {"field": "x2"}, "y": {"datum": 0}}},
      {"data": {"name": "grp"},
       "mark": {"type": "text", "fontSize": 8.5, "dy": 54},
       "encoding": {"x": {"field": "xm", "type": "quantitative"}, "y": {"datum": 0}, "text": {"field": "label"}}},
      {"data": {"values": [{"t": "Mtb"}]},
       "mark": {"type": "text", "fontSize": 17, "fontStyle": "italic", "align": "right", "dx": -40, "dy": 28},
       "encoding": {"x": {"datum": 0.5}, "y": {"datum": 0}, "text": {"field": "t"}}},
      {"data": {"values": [{"t": "["}]},
       "mark": {"type": "text", "fontSize": 30, "fontWeight": "bold", "dx": -20, "dy": 35},
       "encoding": {"x": {"datum": 0.5}, "y": {"datum": 0}, "text": {"field": "t"}}}
    ]
  }
]
}
